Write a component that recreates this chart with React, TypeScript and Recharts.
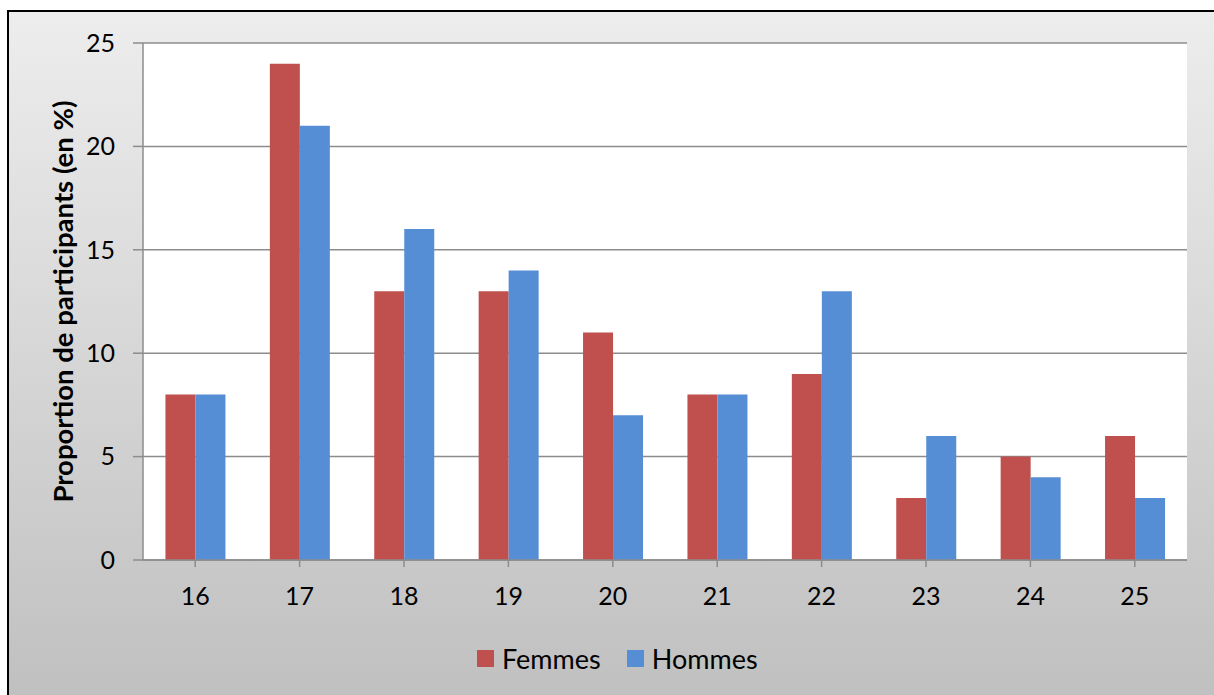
import { BarChart, Bar, XAxis, YAxis, CartesianGrid, Legend } from 'recharts'

const AGES = ['16', '17', '18', '19', '20', '21', '22', '23', '24', '25']
const FEMMES = [8, 24, 13, 13, 11, 8, 9, 3, 5, 6]
const HOMMES = [8, 21, 16, 14, 7, 8, 13, 6, 4, 3]
const Y_TICKS = [0, 5, 10, 15, 20, 25]

const RED = '#C0504D'
const BLUE = '#558ED5'
const GRID = '#8c8c8c'
const FONT = 'Lato, "Open Sans", sans-serif'

const data = AGES.map((age, i) => ({ age, Femmes: FEMMES[i], Hommes: HOMMES[i] }))

const YLabel = (props: any) => {
  const { viewBox } = props
  const cy = viewBox.y + viewBox.height / 2
  return (
    <text
      x={62}
      y={cy}
      transform={`rotate(-90, 62, ${cy})`}
      textAnchor="middle"
      dominantBaseline="central"
      fontFamily={FONT}
      fontWeight="bold"
      fontSize={27.5}
      fill="#000"
    >
      Proportion de participants (en %)
    </text>
  )
}

const LegendContent = () => (
  <div style={{ display: 'flex', alignItems: 'center', paddingLeft: 477, height: 30, fontFamily: FONT, fontSize: 27, color: '#000' }}>
    {[['Femmes', RED], ['Hommes', BLUE]].map(([name, color]) => (
      <div key={name} style={{ display: 'flex', alignItems: 'center', marginRight: 26 }}>
        <span style={{ width: 17, height: 17, background: color, display: 'inline-block', marginRight: 8 }} />
        <span>{name}</span>
      </div>
    ))}
  </div>
)

export default function App() {
  return (
    <div style={{ position: 'fixed', left: 0, top: 0, width: 1214, height: 695, background: '#fff', overflow: 'hidden' }}>
      <div
        style={{
          position: 'absolute',
          left: 7,
          top: 10,
          width: 1240,
          height: 720,
          border: '2px solid #000',
          background: 'linear-gradient(to bottom, #ededed 0px, #bfbfbf 700px)',
        }}
      />
      <div style={{ position: 'absolute', left: 0, top: 0 }}>
        <BarChart
          width={1214}
          height={695}
          data={data}
          margin={{ top: 43, right: 27, bottom: 22, left: 0 }}
          barCategoryGap="21.5%"
          barGap={0}
        >
          <CartesianGrid vertical={false} stroke={GRID} strokeWidth={1.5} fill="#fff" />
          <XAxis
            dataKey="age"
            height={83}
            stroke={GRID}
            strokeWidth={1.5}
            tickSize={7}
            tickMargin={20}
            tick={{ fill: '#000', fontSize: 25, fontFamily: FONT }}
          />
          <YAxis
            width={143}
            domain={[0, 25]}
            ticks={Y_TICKS}
            stroke={GRID}
            strokeWidth={1.5}
            tickSize={10}
            tickMargin={18}
            tick={{ fill: '#000', fontSize: 25, fontFamily: FONT }}
            label={<YLabel />}
          />
          <Legend verticalAlign="bottom" content={<LegendContent />} />
          <Bar dataKey="Femmes" fill={RED} isAnimationActive={false} />
          <Bar dataKey="Hommes" fill={BLUE} isAnimationActive={false} />
        </BarChart>
      </div>
    </div>
  )
}
